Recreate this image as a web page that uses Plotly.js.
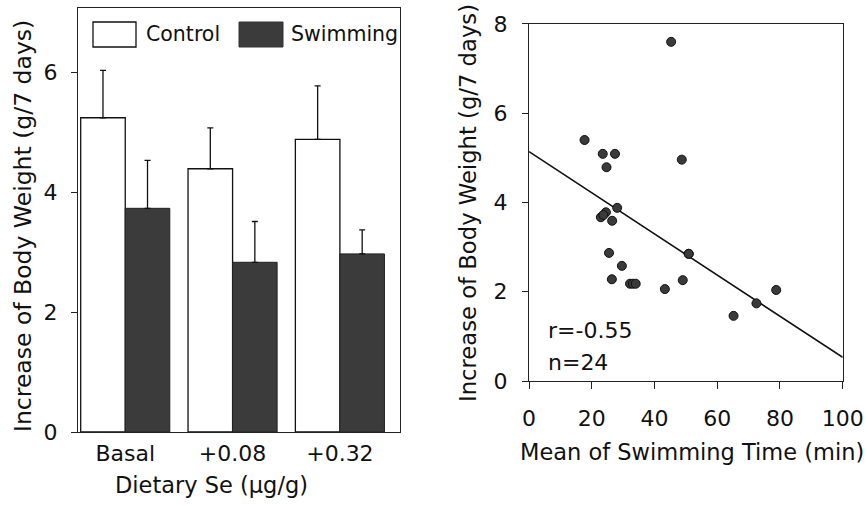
<!DOCTYPE html>
<html>
<head>
<meta charset="utf-8">
<script src="https://cdn.plot.ly/plotly-3.0.1.min.js"></script>
<style>html,body{margin:0;padding:0;background:#fff;}#chart{width:866px;height:507px;}</style>
</head>
<body>
<div id="chart"></div>
<script>
// Bar chart data
const dietCategories = ["Basal", "+0.08", "+0.32"];
const controlMeans = [5.24, 4.39, 4.88];
const controlErr = [0.79, 0.68, 0.89];
const swimMeans = [3.73, 2.83, 2.97];
const swimErr = [0.80, 0.68, 0.40];

// Scatter data
const swimTime = [45.3, 17.7, 23.5, 27.4, 24.7, 48.7, 28.1, 22.9, 24.5, 23.7, 26.5, 25.5, 50.9, 29.6, 26.4, 32.2, 33.1, 34.0, 43.3, 49.0, 65.2, 72.5, 78.8, 50.9];
const weightGain = [7.60, 5.40, 5.09, 5.09, 4.79, 4.96, 3.88, 3.67, 3.78, 3.72, 3.59, 2.87, 2.85, 2.58, 2.28, 2.18, 2.18, 2.18, 2.06, 2.26, 1.46, 1.74, 2.04, 2.85];

// Regression line endpoints
const fitX = [0, 100];
const fitY = [5.14, 0.53];

const yTitle = "Increase of Body Weight (g/7 days)";
const FONT = "DejaVu Sans, Verdana, sans-serif";
const INK = "#111";
const tickF = {family: FONT, size: 22, color: INK};
const legF = {family: FONT, size: 20.5, color: INK};
const W = 866, H = 507;

const data = [
  {type: "bar", name: "Control", x: dietCategories, y: controlMeans, xaxis: "x", yaxis: "y",
   marker: {color: "#ffffff", line: {color: "#111", width: 1.3}},
   error_y: {type: "data", symmetric: false, array: controlErr, arrayminus: [0,0,0], color: "#111", thickness: 1.3, width: 3},
   showlegend: false},
  {type: "bar", name: "Swimming", x: dietCategories, y: swimMeans, xaxis: "x", yaxis: "y",
   marker: {color: "#3b3b3b", line: {color: "#222", width: 1}},
   error_y: {type: "data", symmetric: false, array: swimErr, arrayminus: [0,0,0], color: "#111", thickness: 1.3, width: 3},
   showlegend: false},
  {type: "scatter", mode: "lines", x: fitX, y: fitY, xaxis: "x2", yaxis: "y2",
   line: {color: "#111", width: 1.6}, showlegend: false},
  {type: "scatter", mode: "markers", x: swimTime, y: weightGain, xaxis: "x2", yaxis: "y2",
   marker: {size: 9, color: "#3a3a3a", line: {color: "#111", width: 1}}, showlegend: false}
];

const layout = {
  width: W, height: H,
  margin: {l: 0, r: 0, t: 0, b: 0},
  paper_bgcolor: "#fff", plot_bgcolor: "#fff",
  font: tickF,
  barmode: "group", bargap: 0.17, bargroupgap: 0,
  xaxis: {domain: [0.0901, 0.4619], anchor: "y", type: "category", range: [-0.44, 2.56],
    showline: true, mirror: true, linecolor: "#222", linewidth: 1.2, ticks: "", showgrid: false, zeroline: false,
    tickfont: tickF, ticklabelstandoff: 1},
  yaxis: {domain: [0.1479, 0.9842], anchor: "x", range: [0, 7.07],
    tickvals: [0, 2, 4, 6],
    showline: true, mirror: true, linecolor: "#222", linewidth: 1.2, ticks: "outside", ticklen: 6, tickcolor: "#222",
    showgrid: false, zeroline: false, tickfont: tickF, ticklabelstandoff: 9},
  xaxis2: {domain: [0.6109, 0.9731], anchor: "y2", range: [0, 100],
    tickvals: [0, 20, 40, 60, 80, 100],
    showline: true, mirror: true, linecolor: "#222", linewidth: 1.2, ticks: "outside", ticklen: 7, tickcolor: "#222",
    showgrid: false, zeroline: false, tickfont: tickF, ticklabelstandoff: 10},
  yaxis2: {domain: [0.2485, 0.9527], anchor: "x2", range: [0, 8],
    tickvals: [0, 2, 4, 6, 8],
    showline: true, mirror: true, linecolor: "#222", linewidth: 1.2, ticks: "outside", ticklen: 6, tickcolor: "#222",
    showgrid: false, zeroline: false, tickfont: tickF, ticklabelstandoff: 10},
  shapes: [
    {type: "rect", xref: "paper", yref: "paper", x0: 93/W, x1: 136/W, y0: 1 - 47/H, y1: 1 - 22/H,
     fillcolor: "#fff", line: {color: "#111", width: 1.3}},
    {type: "rect", xref: "paper", yref: "paper", x0: 239/W, x1: 283/W, y0: 1 - 47/H, y1: 1 - 22/H,
     fillcolor: "#3b3b3b", line: {color: "#333", width: 1}}
  ],
  annotations: [
    {xref: "paper", yref: "paper", x: 144/W, y: 1 - 34/H, xanchor: "left", yanchor: "middle",
     text: "Control", showarrow: false, font: legF},
    {xref: "paper", yref: "paper", x: 289/W, y: 1 - 34/H, xanchor: "left", yanchor: "middle",
     text: "Swimming", showarrow: false, font: legF},
    {xref: "x2", yref: "y2", x: 5.5, y: 1.14, xanchor: "left", yanchor: "middle",
     text: "r=-0.55", showarrow: false, font: tickF},
    {xref: "x2", yref: "y2", x: 5.5, y: 0.41, xanchor: "left", yanchor: "middle",
     text: "n=24", showarrow: false, font: tickF},
    // axis titles
    {xref: "paper", yref: "paper", x: 23/W, y: 1 - 226/H, xanchor: "center", yanchor: "middle", textangle: -90,
     text: yTitle, showarrow: false, font: {family: FONT, size: 23.5, color: INK}},
    {xref: "paper", yref: "paper", x: 211/W, y: 1 - 485/H, xanchor: "center", yanchor: "middle",
     text: "Dietary Se (\u03bcg/g)", showarrow: false, font: {family: FONT, size: 22.5, color: INK}},
    {xref: "paper", yref: "paper", x: 468/W, y: 1 - 203/H, xanchor: "center", yanchor: "middle", textangle: -90,
     text: yTitle, showarrow: false, font: {family: FONT, size: 22.7, color: INK}},
    {xref: "paper", yref: "paper", x: 692/W, y: 1 - 452/H, xanchor: "center", yanchor: "middle",
     text: "Mean of Swimming Time (min)", showarrow: false, font: {family: FONT, size: 22.5, color: INK}}
  ]
};

Plotly.newPlot("chart", data, layout, {displayModeBar: false, staticPlot: true});
</script>
</body>
</html>
